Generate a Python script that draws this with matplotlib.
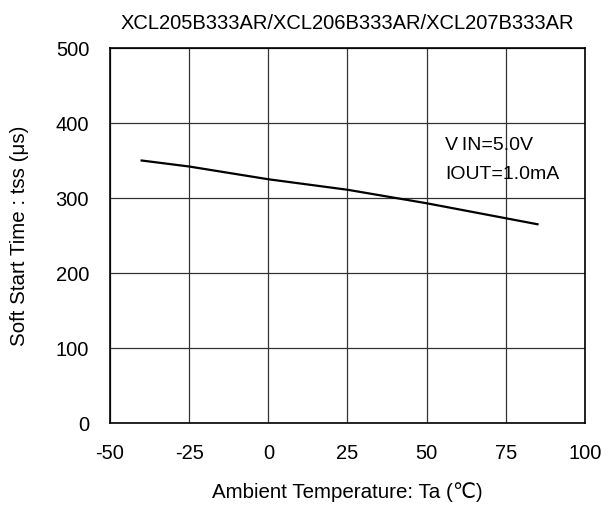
import matplotlib
matplotlib.use('Agg')
import matplotlib.pyplot as plt

plt.rcParams['font.family'] = ['Liberation Sans', 'DejaVu Sans']
plt.rcParams['axes.unicode_minus'] = False

# soft start time vs ambient temperature
temp = [-40, -25, 0, 25, 50, 85]
tss = [350, 342, 325, 311, 293, 265]

xticks = [-50, -25, 0, 25, 50, 75, 100]
yticks = [0, 100, 200, 300, 400, 500]

fig = plt.figure(figsize=(6.12, 5.23), dpi=100)
ax = fig.add_axes([0.1797, 0.1912, 0.9559 - 0.1797, 0.9082 - 0.1912])

ax.plot(temp, tss, color='black', linewidth=1.6)

ax.set_xlim(-50, 100)
ax.set_ylim(0, 500)
ax.set_xticks(xticks)
ax.tick_params(length=0, labelsize=14.5)
ax.set_yticks(yticks)
ax.tick_params(axis='x', pad=15)
ax.tick_params(axis='y', pad=15)
ax.grid(True, color='#333333', linewidth=0.9)
for s in ax.spines.values():
    s.set_linewidth(1.2)

ax.text(55.8, 370, 'V\u2009IN=5.0V', fontsize=14, va='center')
ax.text(55.8, 331, 'IOUT=1.0mA', fontsize=14, va='center')

ax.set_title('XCL205B333AR/XCL206B333AR/XCL207B333AR', fontsize=14.5, pad=14)
ax.set_xlabel('Ambient Temperature: Ta (\u2103)', fontsize=14.8, labelpad=14)
ax.set_ylabel('Soft Start Time : tss (\u03bcs)', fontsize=14.8, labelpad=19)

fig.savefig('out.png', dpi=100)
